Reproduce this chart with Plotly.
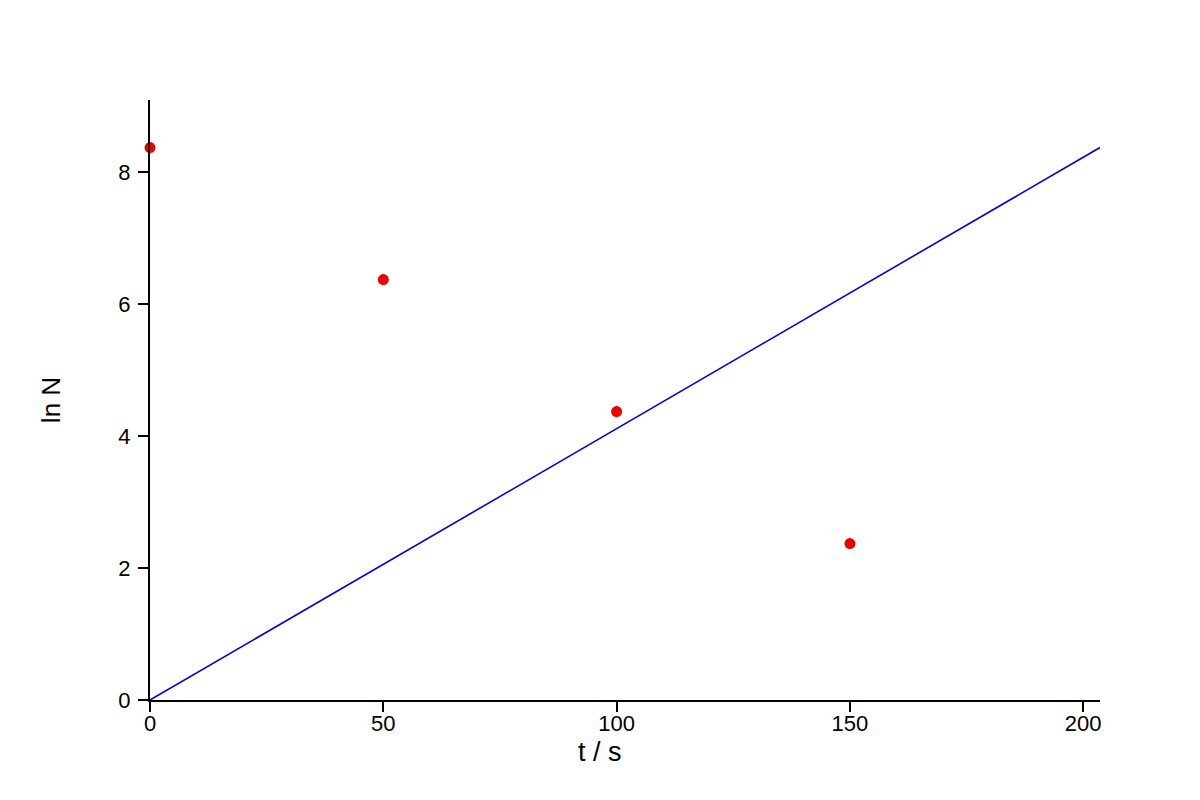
import plotly.graph_objects as go

# measured points
t_values = [0, 50, 100, 150]
lnN_values = [8.37, 6.37, 4.37, 2.37]

# straight line drawn on the chart
line_t = [0, 203.6]
line_lnN = [0, 8.37]

fig = go.Figure()
fig.add_trace(go.Scatter(
    x=line_t, y=line_lnN, mode="lines",
    line=dict(color="#0000dd", width=1.6),
    cliponaxis=False, showlegend=False,
))
fig.add_trace(go.Scatter(
    x=t_values, y=lnN_values, mode="markers",
    marker=dict(color="#ee0000", size=11),
    cliponaxis=False, showlegend=False,
))

# x title sits at the page centre, not the plot centre
fig.add_annotation(
    text="t / s", xref="paper", yref="paper", x=0.4737, y=-0.086,
    xanchor="center", yanchor="middle", showarrow=False,
    font=dict(size=27),
)

fig.update_layout(
    width=1200, height=800,
    margin=dict(l=142, r=108, t=92, b=108),
    plot_bgcolor="white", paper_bgcolor="white",
    font=dict(family="Liberation Sans, Arial", size=22, color="black"),
    xaxis=dict(
        range=[0, 203.6], tickvals=[0, 50, 100, 150, 200],
        showline=True, linecolor="black", linewidth=2,
        ticks="outside", ticklen=10, tickwidth=1.5, tickcolor="black",
        ticklabelstandoff=-7,
        showgrid=False, zeroline=False,
    ),
    yaxis=dict(
        title=dict(text="ln N", font=dict(size=26), standoff=50),
        range=[0, 9.09], tickvals=[0, 2, 4, 6, 8],
        showline=True, linecolor="black", linewidth=2,
        ticks="outside", ticklen=10, tickwidth=1.5, tickcolor="black",
        ticklabelstandoff=3,
        showgrid=False, zeroline=False,
    ),
)

fig.write_html("out.html")
